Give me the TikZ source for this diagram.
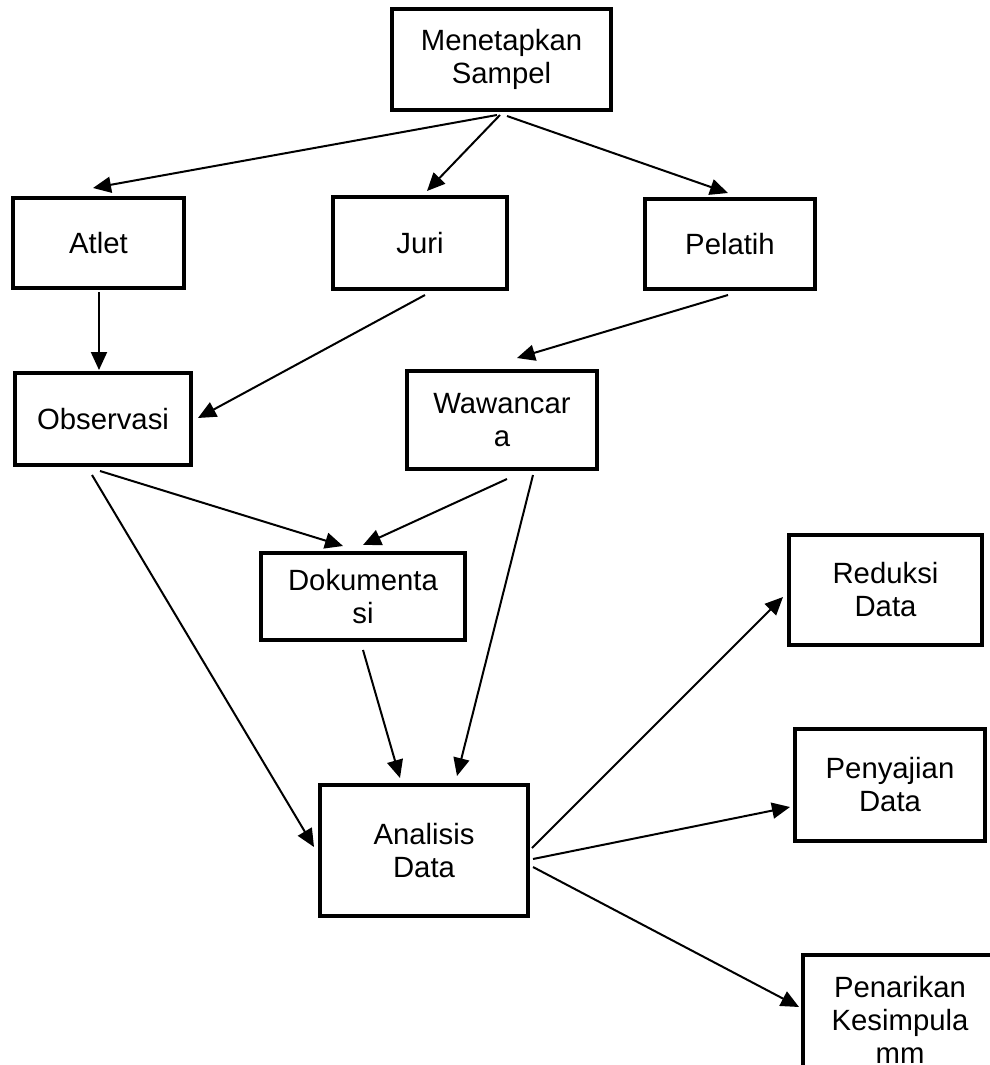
\documentclass[tikz,border=0pt]{standalone}
\usepackage{fontspec}
\setmainfont{Liberation Sans}
\usetikzlibrary{arrows.meta}
\begin{document}
\begin{tikzpicture}[x=1pt,y=-1pt,
  box/.style={draw, line width=4pt, rectangle, align=center, inner sep=0pt,
    font=\fontsize{29.3}{33}\selectfont},
  conn/.style={line width=2pt, -{Triangle[length=18pt,width=16pt]}}]
\useasboundingbox (0,0) rectangle (990,1065);
\clip (0,0) rectangle (990,1065);
\node[box, minimum width=219pt, minimum height=101pt] (mene) at (501.5,59.5) {Menetapkan\\Sampel};
\node[box, minimum width=171pt, minimum height=90pt] (atlet) at (98.5,243) {Atlet};
\node[box, minimum width=174pt, minimum height=92pt] (juri) at (420,243) {Juri};
\node[box, minimum width=170pt, minimum height=90pt] (pelatih) at (730,244) {Pelatih};
\node[box, minimum width=176pt, minimum height=92pt] (obs) at (103,419) {Observasi};
\node[box, minimum width=190pt, minimum height=98pt] (waw) at (502,420) {Wawancar\\a};
\node[box, minimum width=204pt, minimum height=87pt] (dok) at (363,596.5) {Dokumenta\\si};
\node[box, minimum width=208pt, minimum height=131pt] (ana) at (424,850.5) {Analisis\\Data};
\node[box, minimum width=193pt, minimum height=110pt] (red) at (885.5,590) {Reduksi\\Data};
\node[box, minimum width=190pt, minimum height=112pt] (pen) at (890,785) {Penyajian\\Data};
\node[box, minimum width=194pt, minimum height=130pt] (pnr) at (900,1020) {Penarikan\\Kesimpula\\mm};

\draw[conn] ([shift={(-4.5,3)}]mene.south) -- ([shift={(-5.5,-8)}]atlet.north);
\draw[conn] ([shift={(-1.5,3)}]mene.south) -- ([shift={(7,-4)}]juri.north);
\draw[conn] ([shift={(5.5,4)}]mene.south) -- ([shift={(-2,-4)}]pelatih.north);
\draw[conn] ([shift={(0.5,2)}]atlet.south) -- ([shift={(-4,-1)}]obs.north);
\draw[conn] ([shift={(5,4)}]juri.south) -- ([shift={(5,-1)}]obs.east);
\draw[conn] ([shift={(-2,4)}]pelatih.south) -- ([shift={(15,-11)}]waw.north);
\draw[conn] ([shift={(-3,4)}]obs.south) -- ([shift={(-20,-5)}]dok.north);
\draw[conn] ([shift={(-11,8)}]obs.south) -- ([shift={(-4,-3.5)}]ana.west);
\draw[conn] ([shift={(5,8)}]waw.south) -- ([shift={(0,-6)}]dok.north);
\draw[conn] ([shift={(31,4)}]waw.south) -- ([shift={(33,-7)}]ana.north);
\draw[conn] ([shift={(0,8)}]dok.south) -- ([shift={(-24,-5)}]ana.north);
\draw[conn] ([shift={(2,-2.5)}]ana.east) -- ([shift={(-4,7)}]red.west);
\draw[conn] ([shift={(3,8.5)}]ana.east) -- ([shift={(-3,22)}]pen.west);
\draw[conn] ([shift={(3,16.5)}]ana.east) -- ([shift={(-2,-13)}]pnr.west);
\end{tikzpicture}
\end{document}
